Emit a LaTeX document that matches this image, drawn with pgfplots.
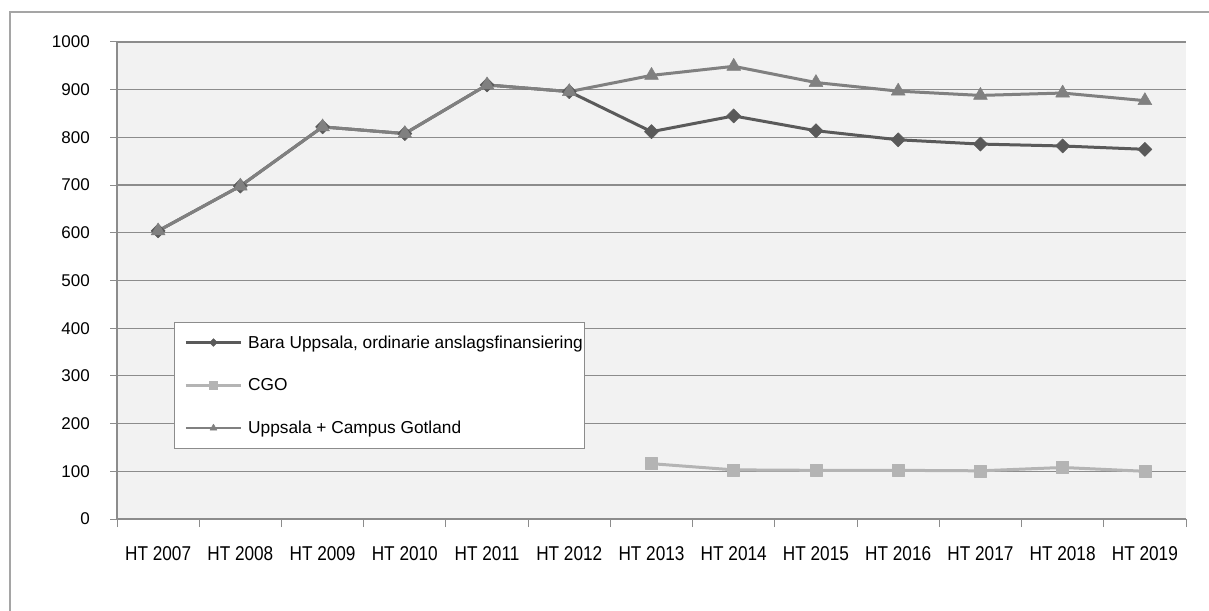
\documentclass[border=0pt]{standalone}
\usepackage{fontspec}
\setmainfont{Liberation Sans}
\newfontfamily\narrowf{Liberation Sans}[FakeStretch=0.86]
\usepackage{pgfplots}
\pgfplotsset{compat=1.18}
\definecolor{cA}{RGB}{90,90,90}
\definecolor{cB}{RGB}{180,180,180}
\definecolor{cC}{RGB}{128,128,128}
\definecolor{bg}{RGB}{242,242,242}
\definecolor{gridc}{RGB}{140,140,140}
\definecolor{framec}{RGB}{165,165,165}
\newcommand\xf{\narrowf\fontsize{20}{23}\selectfont}
\newcommand\yf{\fontsize{17}{20}\selectfont}
\newcommand\lf{\fontsize{17.3}{20}\selectfont}
\pgfplotsset{legimg/.style={legend image code/.code={\path (-10pt,0pt); \draw[##1, line width=2.5pt] (0pt,0pt) -- (55pt,0pt);
    \draw[##1, every mark/.append style={scale=#1}] plot coordinates {(27.5pt,0pt)};}}}
\begin{document}
\begin{tikzpicture}[x=1pt,y=1pt]
\path[use as bounding box] (0,0) rectangle (1209,610);
\draw[framec, line width=1.5pt] (10,-10) -- (10,598) -- (1220,598);
\begin{axis}[
  at={(117pt,91pt)}, anchor=south west,
  scale only axis, width=1069pt, height=477pt,
  xmin=-0.5, xmax=12.5, ymin=0, ymax=1000,
  axis x line*=bottom, axis y line*=left,
  axis line style={gridc, line width=1.6pt},
  axis background/.style={fill=bg},
  xtick={0,...,12},
  xticklabels={HT 2007,HT 2008,HT 2009,HT 2010,HT 2011,HT 2012,HT 2013,HT 2014,HT 2015,HT 2016,HT 2017,HT 2018,HT 2019},
  major x tick style={draw=none},
  minor xtick={-0.5,0.5,...,12.5},
  minor x tick style={gridc, line width=1pt},
  minor tick length=8pt,
  ytick={0,100,...,1000},
  major y tick style={gridc, line width=1pt},
  major tick length=7pt,
  tick align=outside,
  ymajorgrids,
  major grid style={gridc, line width=1.2pt},
  xticklabel style={font=\xf, anchor=base, inner sep=0pt, yshift=-34pt},
  yticklabel style={font=\yf, anchor=east, inner sep=0pt, xshift=-20pt},
  /pgf/number format/assume math mode=true,
  /pgf/number format/1000 sep={},
  clip=false,
  legend style={at={(0.0533,0.413)}, anchor=north west, draw=gridc, line width=1pt, fill=white,
    font=\lf, inner xsep=0pt, inner ysep=11pt, row sep=25pt,
    /tikz/every odd column/.append style={column sep=4pt}},
  legend cell align=left,
]
\addplot[cA, line width=3pt, line join=round, mark=square*, mark size=5pt,
  mark options={rotate=45, fill=cA, draw=cA, line width=0.5pt}, legimg=0.55]
coordinates {(0,604) (1,698) (2,822) (3,808) (4,910) (5,896) (6,812) (7,845) (8,814) (9,795) (10,786) (11,782) (12,775)};
\addlegendentry{Bara Uppsala, ordinarie anslagsfinansiering}
\addplot[cB, line width=3pt, line join=round, mark=square*, mark size=6pt,
  mark options={fill=cB, draw=cB, line width=0.5pt}, legimg=0.7]
coordinates {(6,116) (7,103) (8,102) (9,102) (10,101) (11,108) (12,100)};
\addlegendentry{CGO}
\addplot[cC, line width=3pt, line join=round, mark=triangle*, mark size=8pt,
  mark options={fill=cC, draw=cC, line width=0.5pt}, legimg=0.5]
coordinates {(0,604) (1,698) (2,822) (3,808) (4,910) (5,896) (6,930) (7,949) (8,915) (9,897) (10,888) (11,893) (12,877)};
\addlegendentry{Uppsala + Campus Gotland}
\end{axis}
\end{tikzpicture}
\end{document}
